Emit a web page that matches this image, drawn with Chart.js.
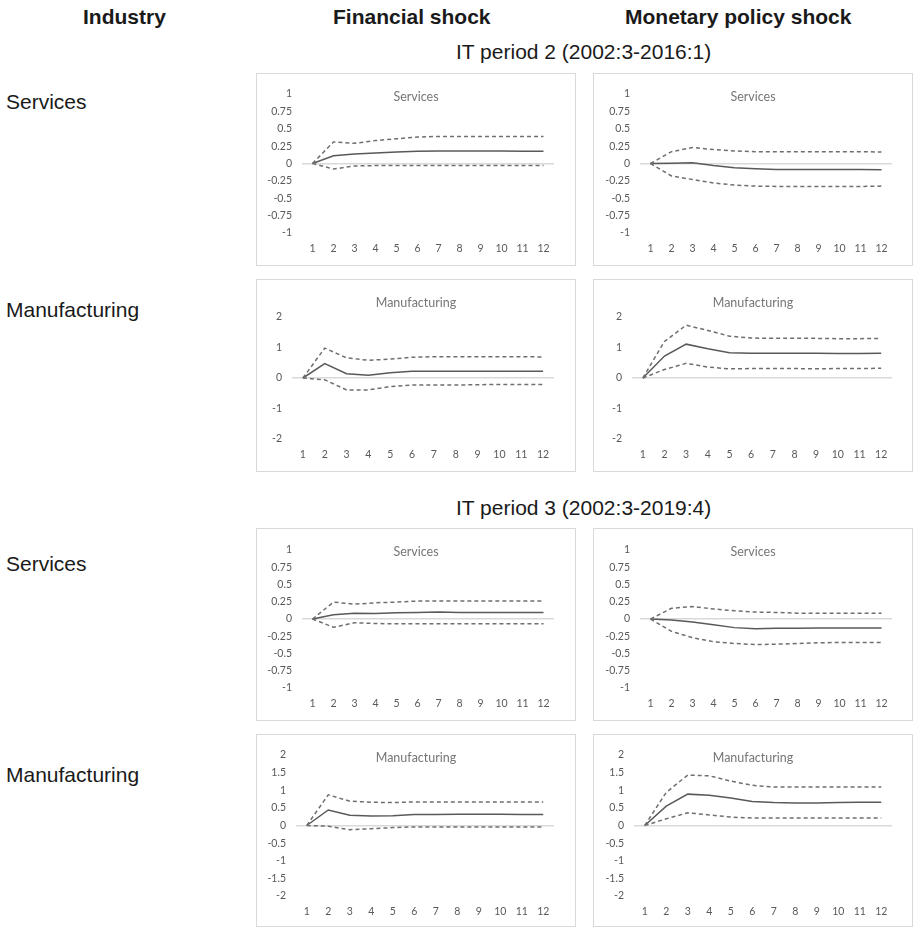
<!DOCTYPE html>
<html>
<head>
<meta charset="utf-8">
<script src="https://cdn.jsdelivr.net/npm/chart.js@4.4.1/dist/chart.umd.min.js"></script>
<style>
  html, body { margin: 0; padding: 0; background: #fff; }
  body { width: 915px; height: 928px; position: relative; overflow: hidden;
         font-family: "Liberation Sans", Arial, sans-serif; color: #1a1a1a; }
  .txt { position: absolute; white-space: nowrap; font-size: 21px; line-height: 24px; height: 24px; }
  .bold { font-weight: bold; }
  .panel { position: absolute; box-shadow: inset 0 0 0 1px #d9d9d9; }
  .panel canvas { position: absolute; left: 0; top: 0; }
</style>
</head>
<body>
<div class="txt bold" style="left:83px; top:5px;">Industry</div>
<div class="txt bold" style="left:333px; top:5px;">Financial shock</div>
<div class="txt bold" style="left:625px; top:5px;">Monetary policy shock</div>
<div class="txt" style="left:456px; top:40px;">IT period 2 (2002:3-2016:1)</div>
<div class="txt" style="left:456px; top:496px;">IT period 3 (2002:3-2019:4)</div>
<div class="txt" style="left:6px; top:90px;">Services</div>
<div class="txt" style="left:6px; top:298px;">Manufacturing</div>
<div class="txt" style="left:6px; top:552px;">Services</div>
<div class="txt" style="left:6px; top:763px;">Manufacturing</div>

<script>
// Quarters after the shock
const horizons = ['1','2','3','4','5','6','7','8','9','10','11','12'];

// IT period 2 (2002:3-2016:1) — financial shock, services
const finSrv2Irf = [0, 0.11, 0.135, 0.15, 0.165, 0.175, 0.18, 0.18, 0.18, 0.18, 0.178, 0.175];
const finSrv2Hi  = [0, 0.31, 0.29, 0.33, 0.355, 0.38, 0.39, 0.39, 0.39, 0.39, 0.39, 0.39];
const finSrv2Lo  = [0, -0.08, -0.035, -0.03, -0.03, -0.03, -0.03, -0.03, -0.03, -0.03, -0.03, -0.03];

// IT period 2 — monetary policy shock, services
const monSrv2Irf = [0, 0.005, 0.01, -0.03, -0.06, -0.075, -0.085, -0.085, -0.085, -0.085, -0.085, -0.09];
const monSrv2Hi  = [0, 0.17, 0.23, 0.2, 0.18, 0.17, 0.17, 0.17, 0.17, 0.17, 0.17, 0.165];
const monSrv2Lo  = [0, -0.18, -0.23, -0.28, -0.31, -0.325, -0.33, -0.33, -0.33, -0.33, -0.33, -0.325];

// IT period 2 — financial shock, manufacturing
const finMan2Irf = [0, 0.47, 0.14, 0.09, 0.17, 0.22, 0.22, 0.22, 0.22, 0.22, 0.22, 0.22];
const finMan2Hi  = [0, 0.98, 0.66, 0.58, 0.62, 0.68, 0.7, 0.7, 0.7, 0.7, 0.7, 0.69];
const finMan2Lo  = [0, -0.06, -0.39, -0.39, -0.28, -0.23, -0.23, -0.23, -0.22, -0.21, -0.21, -0.21];

// IT period 2 — monetary policy shock, manufacturing
const monMan2Irf = [0, 0.72, 1.11, 0.96, 0.83, 0.81, 0.81, 0.81, 0.81, 0.8, 0.8, 0.81];
const monMan2Hi  = [0, 1.2, 1.73, 1.56, 1.37, 1.31, 1.3, 1.3, 1.3, 1.29, 1.29, 1.3];
const monMan2Lo  = [0, 0.28, 0.48, 0.36, 0.3, 0.31, 0.31, 0.31, 0.3, 0.31, 0.31, 0.32];

// IT period 3 (2002:3-2019:4) — financial shock, services
const finSrv3Irf = [0, 0.06, 0.085, 0.08, 0.09, 0.095, 0.1, 0.095, 0.095, 0.095, 0.095, 0.095];
const finSrv3Hi  = [0, 0.245, 0.215, 0.235, 0.245, 0.26, 0.26, 0.26, 0.26, 0.26, 0.26, 0.26];
const finSrv3Lo  = [0, -0.12, -0.055, -0.065, -0.07, -0.07, -0.07, -0.07, -0.07, -0.07, -0.07, -0.07];

// IT period 3 — monetary policy shock, services
const monSrv3Irf = [0, -0.015, -0.045, -0.085, -0.125, -0.14, -0.135, -0.135, -0.13, -0.13, -0.13, -0.13];
const monSrv3Hi  = [0, 0.155, 0.18, 0.145, 0.12, 0.1, 0.095, 0.085, 0.085, 0.085, 0.085, 0.085];
const monSrv3Lo  = [0, -0.18, -0.27, -0.33, -0.355, -0.37, -0.365, -0.355, -0.345, -0.34, -0.34, -0.34];

// IT period 3 — financial shock, manufacturing
const finMan3Irf = [0, 0.44, 0.29, 0.27, 0.28, 0.31, 0.31, 0.32, 0.32, 0.32, 0.31, 0.31];
const finMan3Hi  = [0, 0.87, 0.69, 0.66, 0.65, 0.67, 0.67, 0.67, 0.67, 0.67, 0.67, 0.67];
const finMan3Lo  = [0, -0.02, -0.12, -0.09, -0.06, -0.04, -0.04, -0.04, -0.04, -0.04, -0.04, -0.04];

// IT period 3 — monetary policy shock, manufacturing
const monMan3Irf = [0, 0.55, 0.89, 0.86, 0.78, 0.68, 0.65, 0.64, 0.64, 0.65, 0.66, 0.66];
const monMan3Hi  = [0, 0.94, 1.43, 1.41, 1.26, 1.14, 1.09, 1.09, 1.09, 1.09, 1.09, 1.09];
const monMan3Lo  = [0, 0.19, 0.36, 0.3, 0.24, 0.21, 0.21, 0.21, 0.21, 0.21, 0.21, 0.21];

// Value-axis ranges and tick steps
const srvRange = { min: -1, max: 1, step: 0.25 };
const man2Range = { min: -2, max: 2, step: 1 };
const man3Range = { min: -2, max: 2, step: 0.5 };

// Panel frames on the page and the plot area inside each one
const panels = [
  { title: 'Services',      irf: finSrv2Irf, hi: finSrv2Hi, lo: finSrv2Lo, range: srvRange,  x: 256, y: 73,  w: 320, h: 193, area: [46, 21, 298, 160] },
  { title: 'Services',      irf: monSrv2Irf, hi: monSrv2Hi, lo: monSrv2Lo, range: srvRange,  x: 593, y: 73,  w: 320, h: 193, area: [47, 21, 299, 160] },
  { title: 'Manufacturing', irf: finMan2Irf, hi: finMan2Hi, lo: finMan2Lo, range: man2Range, x: 256, y: 279, w: 320, h: 193, area: [36, 38, 298, 160] },
  { title: 'Manufacturing', irf: monMan2Irf, hi: monMan2Hi, lo: monMan2Lo, range: man2Range, x: 593, y: 279, w: 320, h: 193, area: [39, 38, 299, 160] },
  { title: 'Services',      irf: finSrv3Irf, hi: finSrv3Hi, lo: finSrv3Lo, range: srvRange,  x: 256, y: 528, w: 320, h: 193, area: [46, 22, 298, 160] },
  { title: 'Services',      irf: monSrv3Irf, hi: monSrv3Hi, lo: monSrv3Lo, range: srvRange,  x: 593, y: 528, w: 320, h: 193, area: [47, 22, 299, 160] },
  { title: 'Manufacturing', irf: finMan3Irf, hi: finMan3Hi, lo: finMan3Lo, range: man3Range, x: 256, y: 734, w: 320, h: 193, area: [40, 21, 298, 162] },
  { title: 'Manufacturing', irf: monMan3Irf, hi: monMan3Hi, lo: monMan3Lo, range: man3Range, x: 593, y: 734, w: 320, h: 193, area: [41, 21, 299, 162] }
];

const tickFont = { family: 'Lato, "Open Sans", sans-serif', size: 10.5 };
const tickColor = '#595959';

// Chart title drawn over the plot, as spreadsheet charts do
const overlayTitle = {
  id: 'overlayTitle',
  afterDraw(chart, args, opts) {
    const ctx = chart.ctx;
    ctx.save();
    ctx.font = '12.5px Lato, "Open Sans", sans-serif';
    ctx.fillStyle = '#767676';
    ctx.textAlign = 'center';
    ctx.textBaseline = 'middle';
    ctx.fillText(opts.text, chart.width / 2, opts.y);
    ctx.restore();
  }
};

function lineSet(data, dashed) {
  return {
    data: data,
    borderColor: dashed ? '#6f6f6f' : '#595959',
    borderWidth: 1.5,
    borderDash: dashed ? [4, 3] : [],
    pointRadius: 0,
    tension: 0,
    fill: false
  };
}

// Plain numbers on the value axis: 1, 0.75, 0.5, 0, -0.25 ...
const plainNumber = v => String(Number(v.toFixed(2)));

panels.forEach(p => {
  const box = document.createElement('div');
  box.className = 'panel';
  box.style.left = p.x + 'px';
  box.style.top = p.y + 'px';
  box.style.width = p.w + 'px';
  box.style.height = p.h + 'px';
  const cv = document.createElement('canvas');
  cv.width = p.w; cv.height = p.h;
  cv.style.width = p.w + 'px'; cv.style.height = p.h + 'px';
  box.appendChild(cv);
  document.body.appendChild(box);

  const [aL, aT, aR, aB] = p.area;
  new Chart(cv, {
    type: 'line',
    data: {
      labels: horizons,
      datasets: [lineSet(p.hi, true), lineSet(p.lo, true), lineSet(p.irf, false)]
    },
    options: {
      responsive: false,
      animation: false,
      events: [],
      layout: { padding: { left: 0, top: aT, right: p.w - aR, bottom: 0 } },
      plugins: {
        legend: { display: false },
        tooltip: { enabled: false },
        title: { display: false },
        overlayTitle: { text: p.title, y: 24 }
      },
      scales: {
        x: {
          type: 'category',
          offset: true,
          grid: { display: false, drawTicks: false },
          border: { display: false },
          ticks: { font: tickFont, color: tickColor, autoSkip: false, maxRotation: 0, padding: 9 },
          afterFit(scale) { scale.height = p.h - aB; }
        },
        y: {
          min: p.range.min,
          max: p.range.max,
          grid: {
            drawTicks: false,
            lineWidth: 1.5,
            color: c => (c.tick && c.tick.value === 0) ? '#d9d9d9' : 'rgba(0,0,0,0)'
          },
          border: { display: false },
          ticks: { stepSize: p.range.step, font: tickFont, color: tickColor, padding: 10,
                   callback: plainNumber },
          afterFit(scale) { scale.width = aL; }
        }
      }
    },
    plugins: [overlayTitle]
  });
});
</script>
</body>
</html>
